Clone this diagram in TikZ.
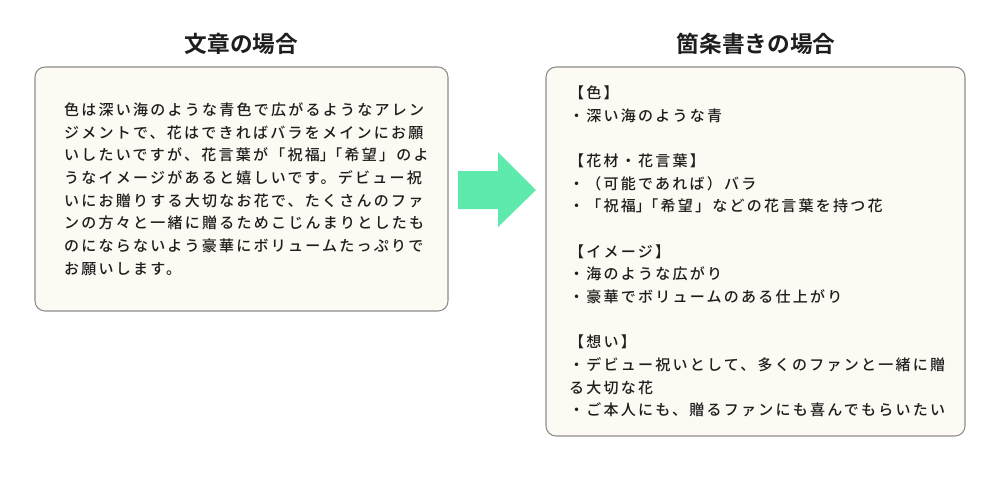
\documentclass[tikz,border=0pt]{standalone}
\usepackage{fontspec}
\usetikzlibrary{positioning}

\newfontfamily\jpfont[LetterSpace=15]{Noto Sans CJK JP Medium}
\newfontfamily\jphalf[LetterSpace=15,RawFeature=+halt]{Noto Sans CJK JP Medium}
\newfontfamily\jphead{Noto Sans CJK JP Bold}
\newcommand\closebr{{\jphalf 」}}

\definecolor{panelfill}{HTML}{FDFAF4}
\definecolor{panelline}{HTML}{8C8C8C}
\definecolor{arrowgreen}{HTML}{5EEAAD}
\definecolor{ink}{HTML}{1E1E1E}

\begin{document}
\begin{tikzpicture}[x=0.75pt,y=-0.75pt,
	panel/.style={draw=panelline,fill=panelfill,line width=0.8pt,rounded corners=7.5pt,inner sep=0pt},
	bodytext/.style={inner sep=0pt,align=left,text=ink,font=\jpfont\fontsize{11.25pt}{17pt}\selectfont},
	heading/.style={inner sep=0pt,text=ink,font=\jphead\fontsize{17pt}{20pt}\selectfont}]

	\useasboundingbox (0,0) rectangle (1000,476);

	\node[panel,minimum width=309.75pt,minimum height=183pt] (prose) at (241.5,189) {};
	\node[panel,minimum width=314.25pt,minimum height=276.75pt] (bullets) at (755.5,251.5) {};

	\node[bodytext,right=22pt of prose.west] (prosetext)
		{色は深い海のような青色で広がるようなアレン\\
		 ジメントで、花はできればバラをメインにお願\\
		 いしたいですが、花言葉が「祝福\closebr「希望」のよ\\
		 うなイメージがあると嬉しいです。デビュー祝\\
		 いにお贈りする大切なお花で、たくさんのファ\\
		 ンの方々と一緒に贈るためこじんまりとしたも\\
		 のにならないよう豪華にボリュームたっぷりで\\
		 お願いします。};
	\node[bodytext,right=17.5pt of bullets.west] (bullettext)
		{【色】\\
		 ・深い海のような青\\[17pt]
		 【花材・花言葉】\\
		 ・（可能であれば）バラ\\
		 ・「祝福\closebr「希望」などの花言葉を持つ花\\[17pt]
		 【イメージ】\\
		 ・海のような広がり\\
		 ・豪華でボリュームのある仕上がり\\[17pt]
		 【想い】\\
		 ・デビュー祝いとして、多くのファンと一緒に贈\\
		 る大切な花\\
		 ・ご本人にも、贈るファンにも喜んでもらいたい};

	\node[heading] (prosehead) at (241.5,44) {文章の場合};
	\node[heading] (bullethead) at (756,44) {箇条書きの場合};

	\fill[arrowgreen] (458,171) -- ++(40,0) -- ++(0,-19) -- ++(38,38)
		-- ++(-38,37) -- ++(0,-18) -- ++(-40,0) -- cycle;

\end{tikzpicture}
\end{document}
